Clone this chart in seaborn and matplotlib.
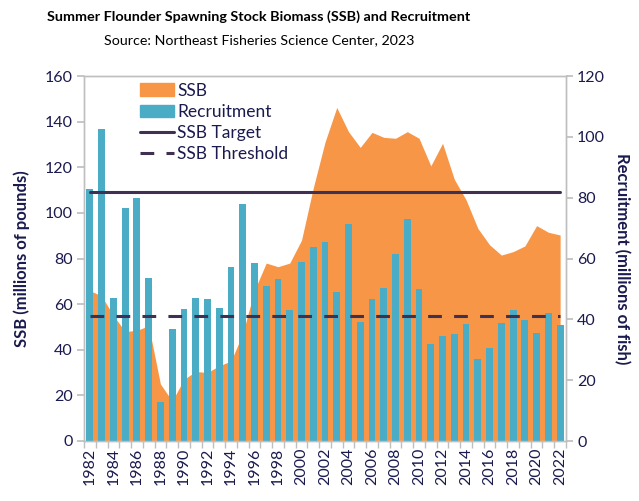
import numpy as np
import pandas as pd
import seaborn as sns
import matplotlib.pyplot as plt
from matplotlib.patches import Patch
from matplotlib.lines import Line2D

years = list(range(1982, 2023))
ssb = [66.0, 63.5, 55.0, 48.0, 48.5, 50.5, 25.0, 17.5, 27.0, 30.5,
       30.0, 33.0, 35.0, 47.0, 66.0, 78.0, 76.4, 78.0, 88.0, 110.9,
       131.0, 146.2, 135.6, 128.7, 135.3, 133.1, 132.7, 135.6, 132.7, 120.6,
       130.5, 114.7, 105.7, 93.2, 86.0, 81.5, 83.0, 85.5, 94.4, 91.5, 90.3]
recruitment = [82.8, 102.6, 47.0, 76.6, 79.9, 53.6, 12.9, 36.8, 43.4, 47.0,
               46.7, 43.7, 57.2, 77.9, 58.6, 51.0, 53.3, 43.2, 58.9, 63.8,
               65.4, 49.1, 71.3, 39.1, 46.7, 50.3, 61.6, 72.9, 50.0, 31.9,
               34.5, 35.2, 38.5, 27.0, 30.6, 38.7, 43.1, 39.8, 35.4, 42.0, 38.1]
ssb_target = 109.3
ssb_threshold = 54.6

df = pd.DataFrame({"year": years, "ssb": ssb, "recruitment": recruitment})

orange = "#F79646"
teal = "#4BACC6"
line_col = "#403152"
text_col = "#1a1a4e"
axis_gray = "#BFBFBF"
lw = 2.2
dash = [4.5, 4.0]

sns.set_theme(style="white")
plt.rcParams["font.family"] = ["Lato", "DejaVu Sans"]

fig = plt.figure(figsize=(6.39, 5.01), dpi=100)
ax = fig.add_axes([84 / 639, 1 - 441 / 501, 482 / 639, 365 / 501])
ax2 = ax.twinx()
ax3 = ax.twinx()

# SSB area on left axis
xpos = np.arange(len(years))
ax.fill_between(xpos, df["ssb"], 0, color=orange, linewidth=0)
ax.set_ylim(0, 160)

# Recruitment bars on right axis
sns.barplot(data=df, x="year", y="recruitment", color=teal, width=0.58,
            saturation=1, linewidth=0, ax=ax2)
ax2.set_ylim(0, 120)

# reference lines, drawn above the bars, in SSB units
ref = pd.DataFrame({"x": [xpos[0], xpos[-1]]})
ref["target"] = ssb_target
ref["threshold"] = ssb_threshold
sns.lineplot(data=ref, x="x", y="target", color=line_col, linewidth=lw, ax=ax3)
sns.lineplot(data=ref, x="x", y="threshold", color=line_col, linewidth=lw, ax=ax3)
ax3.lines[-1].set_dashes(dash)
ax3.set_ylim(0, 160)
ax3.axis("off")

# x axis (shared) on the base axes
ax.set_xlim(-0.5, len(years) - 0.5)
ax.set_xticks(xpos[::2])
ax.set_xticklabels([str(y) for y in years[::2]], rotation=90)
ax.set_xticks(np.arange(-0.5, len(years), 1), minor=True)
ax.tick_params(axis="x", which="major", bottom=False, length=0, labelbottom=True,
               labelcolor=text_col, labelsize=11.5, pad=5)
ax.tick_params(axis="x", which="minor", bottom=True, length=5, color=axis_gray)

# axes styling
for a in (ax, ax2):
    for s in a.spines.values():
        s.set_color(axis_gray)
        s.set_linewidth(1.0)
ax.set_yticks(range(0, 161, 20))
ax2.set_yticks(range(0, 121, 20))
ax.tick_params(axis="y", left=True, length=5, color=axis_gray, labelcolor=text_col,
               labelsize=11.5, pad=3)
ax2.tick_params(axis="y", right=True, length=5, color=axis_gray, labelcolor=text_col,
                labelsize=11.5, pad=3)

ax.set_xlabel("")
ax2.set_xlabel("")
ax.set_ylabel("SSB (millions of pounds)", color=text_col, fontsize=12,
              fontweight="bold", labelpad=11)
ax2.set_ylabel("Recruitment (millions of fish)", color=text_col, fontsize=12,
               fontweight="bold", rotation=270, labelpad=18)

handles = [Patch(color=orange, label="SSB"),
           Patch(color=teal, label="Recruitment"),
           Line2D([], [], color=line_col, linewidth=lw, label="SSB Target"),
           Line2D([], [], color=line_col, linewidth=lw, dashes=dash,
                  label="SSB Threshold")]
leg = ax3.legend(handles=handles, loc="upper left", bbox_to_anchor=(0.094, 1.01),
                 frameon=False, fontsize=12.5, handlelength=1.95, handleheight=0.75,
                 handletextpad=0.2, labelspacing=0.3, borderaxespad=0.2)
for t in leg.get_texts():
    t.set_color(text_col)

fig.text(259 / 639, 1 - 17 / 501, "Summer Flounder Spawning Stock Biomass (SSB) and Recruitment",
         ha="center", va="center", fontsize=10.4, fontweight="bold", color="black")
fig.text(259 / 639, 1 - 40 / 501, "Source: Northeast Fisheries Science Center, 2023",
         ha="center", va="center", fontsize=10.3, color="black")

fig.savefig("out.png", dpi=100)
